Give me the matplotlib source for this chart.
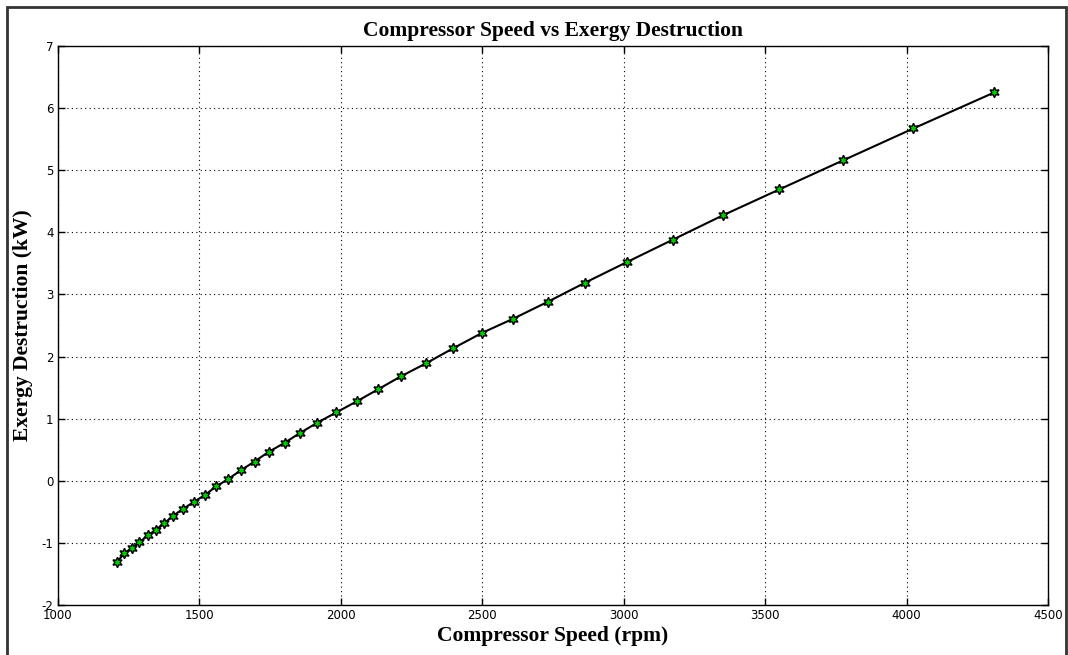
import matplotlib
matplotlib.use("Agg")
import matplotlib.pyplot as plt
from matplotlib.patches import Rectangle

plt.rcParams['axes.unicode_minus'] = False

# compressor speed (rpm) and exergy destruction (kW)
speed = [1211, 1236, 1262, 1289, 1319, 1347, 1377, 1409, 1444, 1482,
         1521, 1561, 1604, 1647, 1696, 1746, 1802, 1857, 1918, 1985,
         2058, 2132, 2213, 2302, 2397, 2500, 2611, 2732, 2865, 3012,
         3174, 3350, 3551, 3775, 4024, 4310]
exergy = [-1.30, -1.17, -1.08, -0.99, -0.88, -0.79, -0.685, -0.56, -0.45, -0.34,
          -0.227, -0.09, 0.03, 0.167, 0.31, 0.465, 0.61, 0.77, 0.935, 1.10,
          1.28, 1.47, 1.68, 1.89, 2.13, 2.38, 2.61, 2.88, 3.19, 3.52,
          3.88, 4.27, 4.69, 5.155, 5.67, 6.25]

xticks = [1000, 1500, 2000, 2500, 3000, 3500, 4000, 4500]
yticks = [-2, -1, 0, 1, 2, 3, 4, 5, 6, 7]

fig = plt.figure(figsize=(10.68, 6.55), dpi=100)
ax = fig.add_axes([0.0539, 0.0763, 0.9274, 0.8537])

ax.plot(speed, exergy, color='black', lw=1.5,
        marker=(6, 1, 0), markersize=7.5, markerfacecolor='#00cc00',
        markeredgecolor='black', markeredgewidth=1.0)

ax.set_xlim(1000, 4500)
ax.set_ylim(-2, 7)
ax.set_xticks(xticks)
ax.set_yticks(yticks)
ax.grid(True, color='black', linestyle=(0, (1, 3)), linewidth=0.8)
ax.tick_params(direction='in', top=True, right=True, length=5, width=1,
               labelsize=8.5, pad=3)
for s in ax.spines.values():
    s.set_linewidth(1.0)

serif = ['Liberation Serif', 'DejaVu Serif']
ax.set_title('Compressor Speed vs Exergy Destruction', fontsize=15.5,
             fontweight='bold', family=serif, pad=7)
ax.set_xlabel('Compressor Speed (rpm)', fontsize=15.5, fontweight='bold',
              family=serif, labelpad=3)
ax.set_ylabel('Exergy Destruction (kW)', fontsize=15.5, fontweight='bold',
              family=serif, labelpad=6)

# outer frame around the figure
fig.patches.append(Rectangle((7 / 1068, -0.05), 1059 / 1068, 1.05 - 7 / 655,
                             transform=fig.transFigure, fill=False,
                             edgecolor='#333333', linewidth=2))

fig.savefig('out.png', dpi=100)
